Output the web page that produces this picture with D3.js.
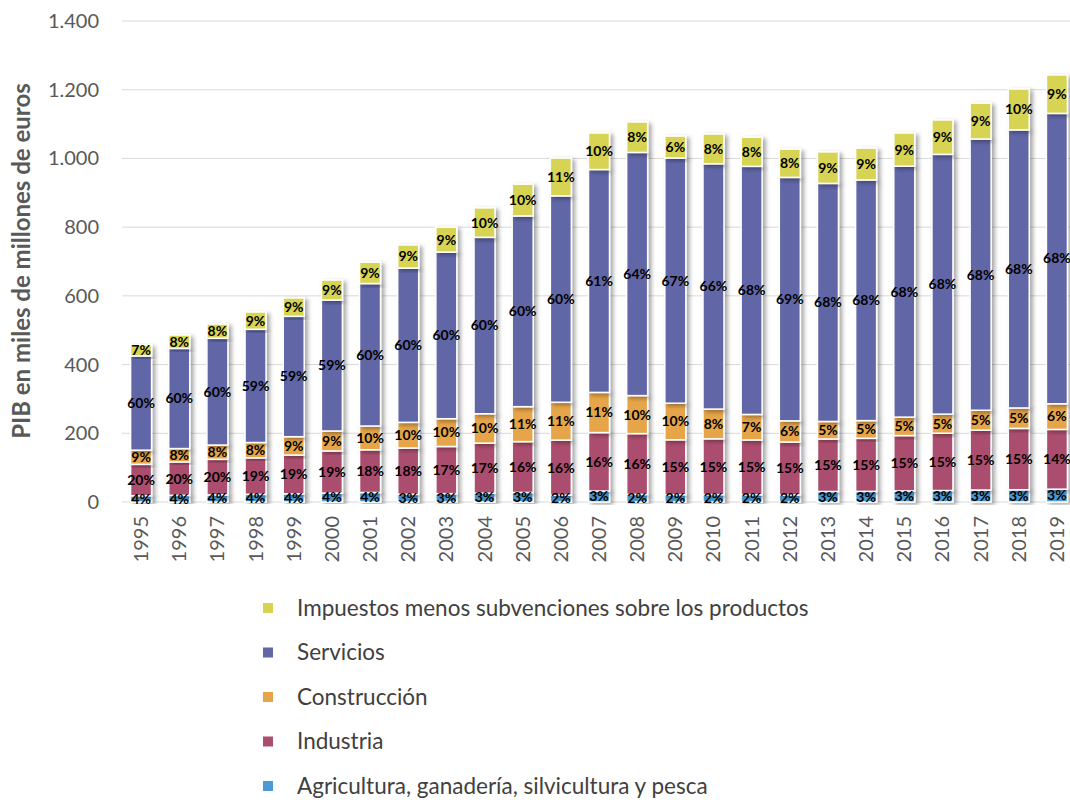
<!DOCTYPE html>
<html>
<head>
<meta charset="utf-8">
<script src="https://cdn.jsdelivr.net/npm/d3@7"></script>
<style>
  body { margin: 0; background: #fff; }
  svg { font-family: Lato, "Open Sans", sans-serif; }
</style>
</head>
<body>
<svg id="chart" width="1070" height="800"></svg>
<script>
// years on the x axis
var years = ["1995","1996","1997","1998","1999","2000","2001","2002","2003","2004","2005","2006","2007",
             "2008","2009","2010","2011","2012","2013","2014","2015","2016","2017","2018","2019"];
// total PIB (miles de millones de euros)
var totals = [457, 486, 518, 553, 594, 646, 698, 748, 800, 856, 925, 1001, 1074,
              1106, 1065, 1071, 1062, 1027, 1019, 1030, 1074, 1112, 1161, 1202, 1243];
// share of each sector (%), as labelled on the bars
var agricultura = [4,4,4,4,4,4,4,3,3,3,3,2,3,2,2,2,2,2,3,3,3,3,3,3,3];
var industria   = [20,20,20,19,19,19,18,18,17,17,16,16,16,16,15,15,15,15,15,15,15,15,15,15,14];
var construccion= [9,8,8,8,9,9,10,10,10,10,11,11,11,10,10,8,7,6,5,5,5,5,5,5,6];
var servicios   = [60,60,60,59,59,59,60,60,60,60,60,60,61,64,67,66,68,69,68,68,68,68,68,68,68];
var impuestos   = [7,8,8,9,9,9,9,9,9,10,10,11,10,8,6,8,8,8,9,9,9,9,9,10,9];

var yTicks = [0, 200, 400, 600, 800, 1000, 1200, 1400];

var series = [
  {key: "agri",  name: "Agricultura, ganadería, silvicultura y pesca", pct: agricultura, color: "#4b9ad3"},
  {key: "ind",   name: "Industria", pct: industria, color: "#ab4e6e"},
  {key: "cons",  name: "Construcción", pct: construccion, color: "#e6a54a"},
  {key: "serv",  name: "Servicios", pct: servicios, color: "#6066a6"},
  {key: "imp",   name: "Impuestos menos subvenciones sobre los productos", pct: impuestos, color: "#d7d452"}
];

// value of each segment = total * share, so the total bar height follows totals[]
var rows = years.map(function (y, i) {
  var sum = series.reduce((a, s) => a + s.pct[i], 0);
  var r = {year: y};
  series.forEach(function (s) { r[s.key] = totals[i] * s.pct[i] / sum; r[s.key + "_p"] = s.pct[i]; });
  return r;
});

var svg = d3.select("#chart");
var margin = {left: 122, right: 1076, top: 21, bottom: 502};

var x = d3.scaleBand().domain(years).range([margin.left, margin.right]).paddingInner(0.45).paddingOuter(0.225);
var y = d3.scaleLinear().domain([0, 1400]).range([margin.bottom, margin.top]);

var es = d3.formatLocale({decimal: ",", thousands: ".", grouping: [3], currency: ["", "€"]});
var fmt = es.format(",");

// drop shadow for bars
var defs = svg.append("defs");
var f = defs.append("filter").attr("id", "shadow").attr("x", "-30%").attr("y", "-10%").attr("width", "170%").attr("height", "130%");
f.append("feDropShadow").attr("dx", 3).attr("dy", 2).attr("stdDeviation", 2).attr("flood-color", "#000").attr("flood-opacity", 0.35);

// gridlines
svg.append("g").selectAll("line")
  .data(yTicks)
  .enter().append("line")
  .attr("x1", margin.left).attr("x2", margin.right)
  .attr("y1", d => y(d)).attr("y2", d => y(d))
  .attr("stroke", "#d9d9d9").attr("stroke-width", 1);

// y tick labels
svg.append("g").selectAll("text")
  .data(yTicks)
  .enter().append("text")
  .attr("x", 99).attr("y", d => y(d))
  .attr("dy", "0.35em")
  .attr("text-anchor", "end")
  .style("font-size", "20px").style("fill", "#595959")
  .text(d => fmt(d));

// y title
svg.append("text")
  .attr("transform", "translate(30," + 261 + ") rotate(-90)")
  .attr("text-anchor", "middle")
  .style("font-size", "24px").style("font-weight", "bold").style("fill", "#595959")
  .text("PIB en miles de millones de euros");

// stacked bars
var stack = d3.stack().keys(series.map(s => s.key));
var stacked = stack(rows);

var layers = svg.append("g").selectAll("g")
  .data(stacked)
  .enter().append("g")
  .attr("fill", (d, i) => series[i].color);

layers.selectAll("rect")
  .data(d => d)
  .enter().append("rect")
  .attr("x", d => x(d.data.year))
  .attr("width", x.bandwidth())
  .attr("y", d => y(d[1]))
  .attr("height", d => y(d[0]) - y(d[1]))
  .attr("stroke", "#fff").attr("stroke-width", 1.5)
  .attr("filter", "url(#shadow)");

// percentage labels
var lab = svg.append("g");
stacked.forEach(function (layer, i) {
  lab.selectAll(null)
    .data(layer)
    .enter().append("text")
    .attr("x", d => x(d.data.year) + x.bandwidth() / 2)
    .attr("y", d => (y(d[0]) + y(d[1])) / 2)
    .attr("dy", "0.35em")
    .attr("text-anchor", "middle")
    .style("font-size", "14px").style("font-weight", "bold").style("fill", "#000")
    .text(d => d.data[series[i].key + "_p"] + "%");
});

// x labels, rotated
svg.append("g").selectAll("text")
  .data(years)
  .enter().append("text")
  .attr("transform", d => "translate(" + (x(d) + x.bandwidth() / 2) + ",516) rotate(-90)")
  .attr("dy", "0.35em")
  .attr("text-anchor", "end")
  .style("font-size", "20px").style("fill", "#595959")
  .text(d => d);

// legend (top-down reversed order)
var legendItems = series.slice().reverse();
var leg = svg.append("g").selectAll("g")
  .data(legendItems)
  .enter().append("g")
  .attr("transform", (d, i) => "translate(263," + (608 + i * 44.5) + ")");
leg.append("rect").attr("x", 0).attr("y", -5).attr("width", 10).attr("height", 10).attr("fill", d => d.color);
leg.append("text").attr("x", 34).attr("dy", "0.35em")
  .style("font-size", "22.5px").style("fill", "#404040")
  .text(d => d.name);
</script>
</body>
</html>
